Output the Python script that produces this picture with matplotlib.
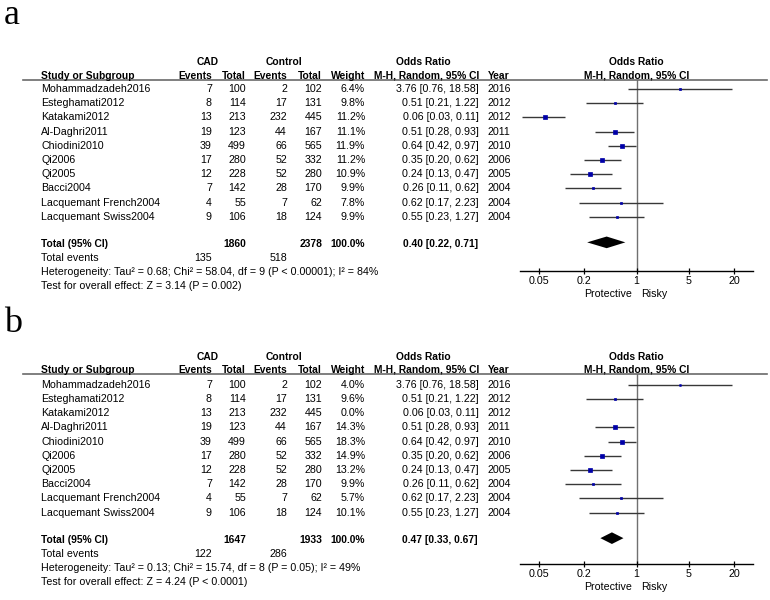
import matplotlib
matplotlib.use('Agg')
import matplotlib.pyplot as plt
from matplotlib.lines import Line2D
from matplotlib.ticker import NullLocator
import numpy as np

plt.rcParams['font.family'] = ['Liberation Sans', 'DejaVu Sans']

# ---------------- data ----------------
studies = ["Mohammadzadeh2016", "Esteghamati2012", "Katakami2012", "Al-Daghri2011",
           "Chiodini2010", "Qi2006", "Qi2005", "Bacci2004",
           "Lacquemant French2004", "Lacquemant Swiss2004"]
cad_events = [7, 8, 13, 19, 39, 17, 12, 7, 4, 9]
cad_total = [100, 114, 213, 123, 499, 280, 228, 142, 55, 106]
ctrl_events = [2, 17, 232, 44, 66, 52, 52, 28, 7, 18]
ctrl_total = [102, 131, 445, 167, 565, 332, 280, 170, 62, 124]
odds_ratio = [3.76, 0.51, 0.06, 0.51, 0.64, 0.35, 0.24, 0.26, 0.62, 0.55]
ci_low = [0.76, 0.21, 0.03, 0.28, 0.42, 0.20, 0.13, 0.11, 0.17, 0.23]
ci_high = [18.58, 1.22, 0.11, 0.93, 0.97, 0.62, 0.47, 0.62, 2.23, 1.27]
years = [2016, 2012, 2012, 2011, 2010, 2006, 2005, 2004, 2004, 2004]

weights_a = [6.4, 9.8, 11.2, 11.1, 11.9, 11.2, 10.9, 9.9, 7.8, 9.9]
weights_b = [4.0, 9.6, 0.0, 14.3, 18.3, 14.9, 13.2, 9.9, 5.7, 10.1]
pooled_a = (0.40, 0.22, 0.71)
pooled_b = (0.47, 0.33, 0.67)
totals_a = (1860, 2378)
totals_b = (1647, 1933)
events_a = (135, 518)
events_b = (122, 286)
het_a = "Heterogeneity: Tau² = 0.68; Chi² = 58.04, df = 9 (P < 0.00001); I² = 84%"
test_a = "Test for overall effect: Z = 3.14 (P = 0.002)"
het_b = "Heterogeneity: Tau² = 0.13; Chi² = 15.74, df = 8 (P = 0.05); I² = 49%"
test_b = "Test for overall effect: Z = 4.24 (P < 0.0001)"

xticks = [0.05, 0.2, 1, 5, 20]
xtick_labels = ["0.05", "0.2", "1", "5", "20"]

# ---------------- layout ----------------
W, H = 770, 600
fig = plt.figure(figsize=(W / 100, H / 100), dpi=100)
fig.patch.set_facecolor('white')

FS = 7.7
FSB = 7.4
DY = 14.2
MARKER_COLOR = '#0000A8'


def T(x, y, s, ha='left', bold=False, **kw):
    fig.text(x / W, 1 - y / H, s, ha=ha, va='center',
             fontsize=FSB if bold else FS,
             fontweight='bold' if bold else 'normal', **kw)


def draw_panel(letter, letter_y, h1_y, h2_y, line_y, row0_y, axis_y,
               weights, pooled, totals, events, het, test):
    # panel letter
    fig.text(4 / W, 1 - letter_y / H, letter, ha='left', va='baseline',
             fontsize=26, family='Liberation Serif')

    # headers
    T(208, h1_y, "CAD", ha='center', bold=True)
    T(284, h1_y, "Control", ha='center', bold=True)
    T(423.5, h1_y, "Odds Ratio", ha='center', bold=True)
    T(636, h1_y, "Odds Ratio", ha='center', bold=True)
    T(41, h2_y, "Study or Subgroup", bold=True)
    T(212, h2_y, "Events", ha='right', bold=True)
    T(246, h2_y, "Total", ha='right', bold=True)
    T(287, h2_y, "Events", ha='right', bold=True)
    T(322, h2_y, "Total", ha='right', bold=True)
    T(365, h2_y, "Weight", ha='right', bold=True)
    T(479, h2_y, "M-H, Random, 95% CI", ha='right', bold=True)
    T(488, h2_y, "Year", bold=True)
    T(637, h2_y, "M-H, Random, 95% CI", ha='center', bold=True)

    fig.add_artist(Line2D([23 / W, 767 / W], [1 - line_y / H] * 2,
                          color='#6a6a6a', lw=1.2))

    # study rows
    for i, name in enumerate(studies):
        y = row0_y + i * DY
        T(41, y, name)
        T(212, y, str(cad_events[i]), ha='right')
        T(246, y, str(cad_total[i]), ha='right')
        T(287, y, str(ctrl_events[i]), ha='right')
        T(322, y, str(ctrl_total[i]), ha='right')
        T(365, y, f"{weights[i]:.1f}%", ha='right')
        T(479, y, f"{odds_ratio[i]:.2f} [{ci_low[i]:.2f}, {ci_high[i]:.2f}]", ha='right')
        T(488, y, str(years[i]))

    r_tot, r_ev, r_het, r_test = 10.9, 11.9, 12.9, 13.9
    yt = row0_y + r_tot * DY
    T(41, yt, "Total (95% CI)", bold=True)
    T(246, yt, str(totals[0]), ha='right', bold=True)
    T(322, yt, str(totals[1]), ha='right', bold=True)
    T(365, yt, "100.0%", ha='right', bold=True)
    T(478, yt, f"{pooled[0]:.2f} [{pooled[1]:.2f}, {pooled[2]:.2f}]", ha='right', bold=True)
    ye = row0_y + r_ev * DY
    T(41, ye, "Total events")
    T(212, ye, str(events[0]), ha='right')
    T(287, ye, str(events[1]), ha='right')
    T(41, row0_y + r_het * DY, het)
    T(41, row0_y + r_test * DY, test)

    # forest axes
    x0, x1 = 520, 753
    ax = fig.add_axes([x0 / W, 1 - axis_y / H, (x1 - x0) / W, (axis_y - line_y) / H])
    ax.set_xscale('log')
    ax.set_xlim(0.028, 35.7)
    r_top = (line_y - row0_y) / DY
    r_bot = (axis_y - row0_y) / DY
    ax.set_ylim(r_bot, r_top)
    ax.patch.set_alpha(0)
    for s in ['top', 'left', 'right']:
        ax.spines[s].set_visible(False)
    ax.spines['bottom'].set_color('black')
    ax.spines['bottom'].set_linewidth(1.0)
    ax.set_yticks([])
    ax.set_xticks(xticks)
    ax.set_xticklabels(xtick_labels)
    ax.xaxis.set_minor_locator(NullLocator())
    ax.tick_params(axis='x', direction='inout', length=4.5, width=0.9,
                   pad=1.5, labelsize=FS, color='black')

    ax.axvline(1, color='#707070', lw=1.0, zorder=1)

    for i in range(len(studies)):
        w = weights[i]
        if w <= 0:
            continue
        ax.plot([ci_low[i], ci_high[i]], [i, i], color='#383838', lw=1.0, zorder=2,
                solid_capstyle='butt')
        ax.plot(odds_ratio[i], i, marker='s', ms=0.8 * np.sqrt(w) - 0.4,
                color=MARKER_COLOR, mec=MARKER_COLOR, mew=0.5, zorder=3,
                snap=False)

    est, lo, hi = pooled
    h = 0.41
    rd = r_tot - 0.1
    ax.fill([lo, est, hi, est], [rd, rd - h, rd, rd + h], color='black',
            lw=0, zorder=3)

    py = axis_y + 22.8
    T(632, py, "Protective", ha='right')
    T(641, py, "Risky", ha='left')


draw_panel("a", 23.5, 62, 76, 80, 89, 270.7,
           weights_a, pooled_a, totals_a, events_a, het_a, test_a)
draw_panel("b", 331.7, 356.7, 370, 374, 384.8, 564,
           weights_b, pooled_b, totals_b, events_b, het_b, test_b)

fig.savefig("out.png", dpi=100, facecolor='white')
